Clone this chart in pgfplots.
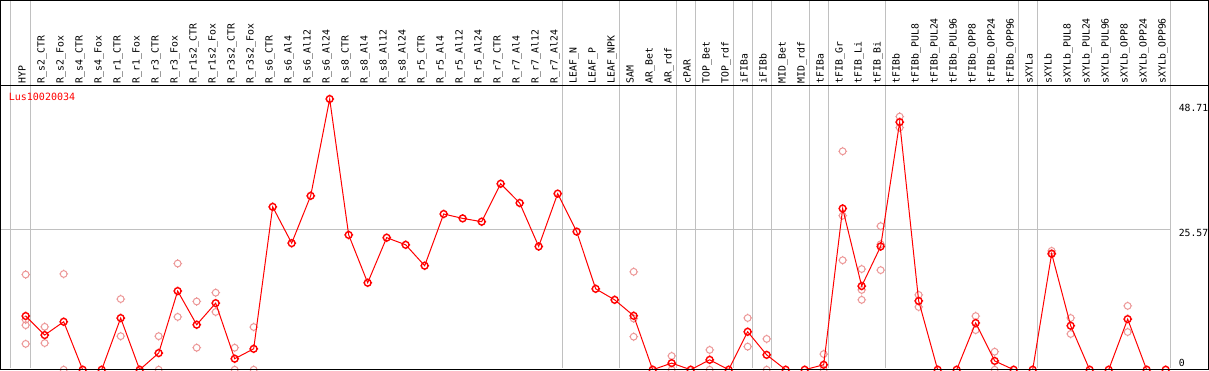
\documentclass[border=0pt]{standalone}
\usepackage{pgfplots}
\pgfplotsset{compat=1.18}
\usepackage{pgfplotstable}
\usepackage{fontspec}
\setmainfont{DejaVu Sans Mono}
\definecolor{gridgray}{RGB}{192,192,192}
\definecolor{faint}{RGB}{236,150,150}
\definecolor{mainred}{RGB}{255,0,0}
\pgfdeclareplotmark{sight}{%
  \pgfpathcircle{\pgfpointorigin}{\pgfplotmarksize}%
  \pgfpathmoveto{\pgfpoint{0pt}{\pgfplotmarksize}}\pgfpathlineto{\pgfpoint{0pt}{1.28\pgfplotmarksize}}%
  \pgfpathmoveto{\pgfpoint{0pt}{-\pgfplotmarksize}}\pgfpathlineto{\pgfpoint{0pt}{-1.28\pgfplotmarksize}}%
  \pgfpathmoveto{\pgfpoint{\pgfplotmarksize}{0pt}}\pgfpathlineto{\pgfpoint{1.28\pgfplotmarksize}{0pt}}%
  \pgfpathmoveto{\pgfpoint{-\pgfplotmarksize}{0pt}}\pgfpathlineto{\pgfpoint{-1.28\pgfplotmarksize}{0pt}}%
  \pgfusepathqstroke}

\pgfplotstableread{
i v
0 9.76
1 6.3
2 8.72
3 0
4 0
5 9.39
6 0
7 3.03
8 14.3
9 8.18
10 12.1
11 2.0
12 3.8
13 29.6
14 23.0
15 31.6
16 49.2
17 24.5
18 15.8
19 24.0
20 22.7
21 18.9
22 28.3
23 27.5
24 26.9
25 33.8
26 30.3
27 22.4
28 32.0
29 25.1
30 14.7
31 12.7
32 9.8
33 0
34 1.2
35 0
36 1.8
37 0
38 6.9
39 2.7
40 0
41 0
42 0.9
43 29.3
44 15.2
45 22.4
46 45.0
47 12.5
48 0
49 0
50 8.5
51 1.6
52 0
53 0
54 21.1
55 8.0
56 0
57 0
58 9.2
59 0
60 0
}\maindata

\pgfplotstableread{
i v
0 17.3
0 9.1
0 8.1
0 4.7
1 7.8
1 4.85
2 17.4
2 0
5 12.85
5 6.1
7 6.1
7 0
8 19.3
8 9.6
9 12.4
9 4.0
10 14.0
10 10.5
11 4.0
11 0
12 7.76
12 0
32 17.8
32 9.3
32 6.0
34 2.5
34 0
36 3.6
36 0
38 9.4
38 4.2
39 5.6
39 0
42 2.85
42 0
43 39.7
43 28.0
43 19.9
44 18.3
44 14.5
44 12.7
45 26.1
45 22.8
45 18.1
46 46.0
46 44.0
47 13.6
47 11.4
50 9.75
50 7.2
51 3.27
51 0
54 21.6
54 21.0
55 9.4
55 6.5
58 11.6
58 6.85
}\repdata

\begin{document}
\begin{tikzpicture}[x=1bp,y=1bp]
\useasboundingbox (0,0) rectangle (1209,370);
% vertical group separators through full height
\begin{axis}[at={(1,0.5)}, anchor=south west, scale only axis,
  width=1170bp, height=369bp,
  xmin=-1.342, xmax=60.24, ymin=0, ymax=1,
  axis line style={draw=none},
  xtick={-0.78,0.24,28.24,31.24,34.24,35.24,37.24,38.24,39.24,41.24,42.24,45.24,52.24,53.24,60.24},
  xticklabels={}, ytick=\empty, major tick length=0pt,
  xmajorgrids, major grid style={gridgray, line width=1bp}]
\end{axis}
% main plot
\begin{axis}[at={(1,0.5)}, anchor=south west, scale only axis,
  width=1170bp, height=284bp,
  xmin=-1.342, xmax=60.24, ymin=0, ymax=51.61,
  clip mode=individual,
  axis line style={draw=none},
  major tick length=0pt,
  xtick={0,...,60},
  xticklabel pos=upper,
  xticklabel style={rotate=90, anchor=base west, inner xsep=2.5bp, inner ysep=0pt,
    font=\fontsize{9.8bp}{11bp}\selectfont, text=black},
  xticklabels={HYP,R\_s2\_CTR,R\_s2\_Fox,R\_s4\_CTR,R\_s4\_Fox,R\_r1\_CTR,R\_r1\_Fox,R\_r3\_CTR,R\_r3\_Fox,R\_r1s2\_CTR,R\_r1s2\_Fox,R\_r3s2\_CTR,R\_r3s2\_Fox,R\_s6\_CTR,R\_s6\_Al4,R\_s6\_Al12,R\_s6\_Al24,R\_s8\_CTR,R\_s8\_Al4,R\_s8\_Al12,R\_s8\_Al24,R\_r5\_CTR,R\_r5\_Al4,R\_r5\_Al12,R\_r5\_Al24,R\_r7\_CTR,R\_r7\_Al4,R\_r7\_Al12,R\_r7\_Al24,LEAF\_N,LEAF\_P,LEAF\_NPK,SAM,AR\_Bet,AR\_rdf,cPAR,TOP\_Bet,TOP\_rdf,iFIBa,iFIBb,MID\_Bet,MID\_rdf,tFIBa,tFIB\_Gr,tFIB\_Li,tFIB\_Bi,tFIBb,tFIBb\_PUL8,tFIBb\_PUL24,tFIBb\_PUL96,tFIBb\_OPP8,tFIBb\_OPP24,tFIBb\_OPP96,sXYLa,sXYLb,sXYLb\_PUL8,sXYLb\_PUL24,sXYLb\_PUL96,sXYLb\_OPP8,sXYLb\_OPP24,sXYLb\_OPP96},
  ytick=\empty,
  extra y ticks={25.57}, extra y tick labels={},
  extra y tick style={grid=major, major grid style={gridgray, line width=1bp}},
]
\addplot[only marks, mark=sight, mark size=3.4bp, mark options={draw=faint, line width=1bp}] table[x=i,y=v]{\repdata};
\addplot[mainred, line width=1bp, mark=sight, mark size=3.4bp, mark options={draw=mainred, line width=1.4bp}] table[x=i,y=v]{\maindata};
\node[anchor=west, inner sep=0pt, text=mainred, font=\fontsize{10bp}{12bp}\selectfont] at (axis cs:-0.895,49.6) {Lus10020034};
\node[anchor=west, inner sep=0pt, font=\fontsize{9.8bp}{11bp}\selectfont] at (axis cs:60.68,47.6) {48.71};
\node[anchor=west, inner sep=0pt, font=\fontsize{9.8bp}{11bp}\selectfont] at (axis cs:60.68,24.9) {25.57};
\node[anchor=west, inner sep=0pt, font=\fontsize{9.8bp}{11bp}\selectfont] at (axis cs:60.68,1.27) {0};
\end{axis}
\draw[line width=1bp] (0.5,0.5) rectangle (1208.5,369.5);
\draw[line width=1bp] (0.5,284.5) -- (1208.5,284.5);
\end{tikzpicture}
\end{document}
